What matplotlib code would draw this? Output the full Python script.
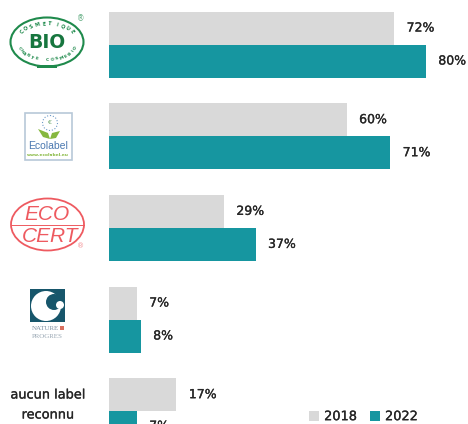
import numpy as np
import matplotlib
matplotlib.use("Agg")
import matplotlib.pyplot as plt
import matplotlib.patheffects as pe
from matplotlib.patches import Ellipse, Rectangle, Circle, Polygon

years = ["2018", "2022"]
labels = ["BIO", "Ecolabel", "Ecocert", "Nature & Progrès", "aucun label reconnu"]
values_2018 = [72, 60, 29, 7, 17]
values_2022 = [80, 71, 37, 8, 7]

GREY = "#d9d9d9"
TEAL = "#1696a0"
TXT = "#262626"
W, H = 468, 424
HEAVY = [pe.withStroke(linewidth=0.2, foreground=TXT)]  # texte un peu plus gras


def ring_text(ax, text, cx, cy, rx, ry, a0, a1, color, size, flip=False):
    # lettres posees une par une sur l'ellipse du logo
    for ch, a in zip(text, np.linspace(a0, a1, len(text))):
        r = np.radians(a)
        rot = a - 90 if not flip else a + 90
        ax.text(cx + rx * np.cos(r), cy - ry * np.sin(r), ch, color=color, fontsize=size,
                rotation=rot, ha="center", va="center", fontweight="bold")


def logo_bio(ax):
    g = "#1f8a4c"
    ax.add_patch(Ellipse((47, 42), 73, 49, fill=False, ec=g, lw=1.5))
    ax.text(47, 42.5, "BIO", color="#17763f", fontsize=13.5, fontweight="bold", ha="center", va="center")
    ring_text(ax, "COSMETIQUE", 47, 42, 30, 18, 145, 35, g, 3.6)
    ring_text(ax, "CHARTE COSMEBIO", 47, 42, 30, 18, 200, 340, g, 3.2, flip=True)
    ax.add_patch(Rectangle((37, 65), 20, 3, color=g, lw=0))
    ax.text(81, 19, "®", color=g, fontsize=5.5, ha="center", va="center", alpha=0.7)


def logo_ecolabel(ax):
    ax.add_patch(Rectangle((24.5, 113), 47, 47, fc="white", ec="#b8c8d8", lw=1.2))
    ax.add_patch(Circle((50, 123), 7.5, fill=False, ec="#6f9bc8", lw=0.8, ls=":"))
    ax.text(50, 123, "€", color="#5f9f5f", fontsize=4.5, ha="center", va="center")
    ax.add_patch(Polygon([[38, 129], [48, 133], [50, 139], [43, 137]], color="#86b83f", lw=0))
    ax.add_patch(Polygon([[50, 139], [52, 133], [60, 131], [56, 138]], color="#86b83f", lw=0))
    ax.text(48.5, 146, "Ecolabel", color="#4a78b0", fontsize=7.5, ha="center", va="center",
            family="Liberation Sans")
    ax.text(48, 155, "www.ecolabel.eu", color="#86b83f", fontsize=3.2, ha="center", va="center",
            fontweight="bold")


def logo_ecocert(ax):
    r = "#ee5a60"
    ax.add_patch(Ellipse((47.5, 224.5), 73, 52, fill=False, ec=r, lw=1.3))
    ax.plot([11, 84], [225, 225], color=r, lw=0.7)
    ax.text(47, 214, "ECO", color=r, fontsize=15, style="italic", ha="center", va="center",
            family="Liberation Sans")
    ax.text(50, 236, "CERT", color=r, fontsize=15, style="italic", ha="center", va="center",
            family="Liberation Sans")
    ax.text(81, 246, "®", color=r, fontsize=5, ha="center", va="center", alpha=0.7)


def logo_nature(ax):
    b = "#17566b"
    ax.add_patch(Rectangle((30, 289), 35, 33, color=b, lw=0))
    ax.add_patch(Circle((46, 306), 15, color="white", lw=0))
    ax.add_patch(Circle((54, 302), 8, color=b, lw=0))
    ax.add_patch(Circle((60, 305), 4, color="white", lw=0))
    ax.add_patch(Rectangle((30, 322), 35, 4, color="white", lw=0))
    ax.text(45, 328, "NATURE", color="#7d8fa0", fontsize=5, family="Liberation Serif",
            ha="center", va="center")
    ax.text(47, 336, "PROGRES", color="#9aa8b4", fontsize=5, family="Liberation Serif",
            ha="center", va="center")
    ax.add_patch(Rectangle((60, 326), 4, 4, color="#d9705f", lw=0))


def main():
    fig = plt.figure(figsize=(W / 100, H / 100), dpi=100)

    # axe des barres : 0% a x=109 px, 3.96 px par point de %
    ax = fig.add_axes([109 / W, 0, 1 - 109 / W, 1])
    y = np.arange(len(labels))
    h = 0.36
    b1 = ax.barh(y - h / 2, values_2018, h, color=GREY, label=years[0])
    b2 = ax.barh(y + h / 2, values_2022, h, color=TEAL, label=years[1])
    for b in (b1, b2):
        txts = ax.bar_label(b, fmt="%d%%", padding=9, fontsize=9, color=TXT, clip_on=False)
        for t in txts:
            t.set_path_effects(HEAVY)
    # le dernier 7% est coupe par le bas de l'image, son point d'ancrage sort de l'axe
    txts[-1].set_annotation_clip(False)
    txts[-1].xyann = (9, 1)
    ax.set_xlim(0, (W - 109) / 3.96)
    ax.set_ylim(4.14, -0.486)
    ax.axis("off")

    # logos et libelle de gauche, en coordonnees pixels
    ov = fig.add_axes([0, 0, 1, 1], zorder=3)
    ov.set_xlim(0, W)
    ov.set_ylim(H, 0)
    ov.axis("off")
    logo_bio(ov)
    logo_ecolabel(ov)
    logo_ecocert(ov)
    logo_nature(ov)
    for yy, s in zip([395, 415], ["aucun label", "reconnu"]):
        ov.text(48, yy, s, color=TXT, fontsize=9.3, ha="center", va="center", path_effects=HEAVY)

    leg = fig.legend(handles=[b1, b2], loc="lower left", bbox_to_anchor=(309 / W, 0.002), ncol=2,
                     frameon=False, fontsize=9.3, handlelength=0.78, handleheight=0.78,
                     handletextpad=0.39, columnspacing=1.0, labelcolor=TXT,
                     borderaxespad=0, borderpad=0)
    for t in leg.get_texts():
        t.set_path_effects(HEAVY)

    fig.savefig("out.png", dpi=100)


if __name__ == "__main__":
    main()
